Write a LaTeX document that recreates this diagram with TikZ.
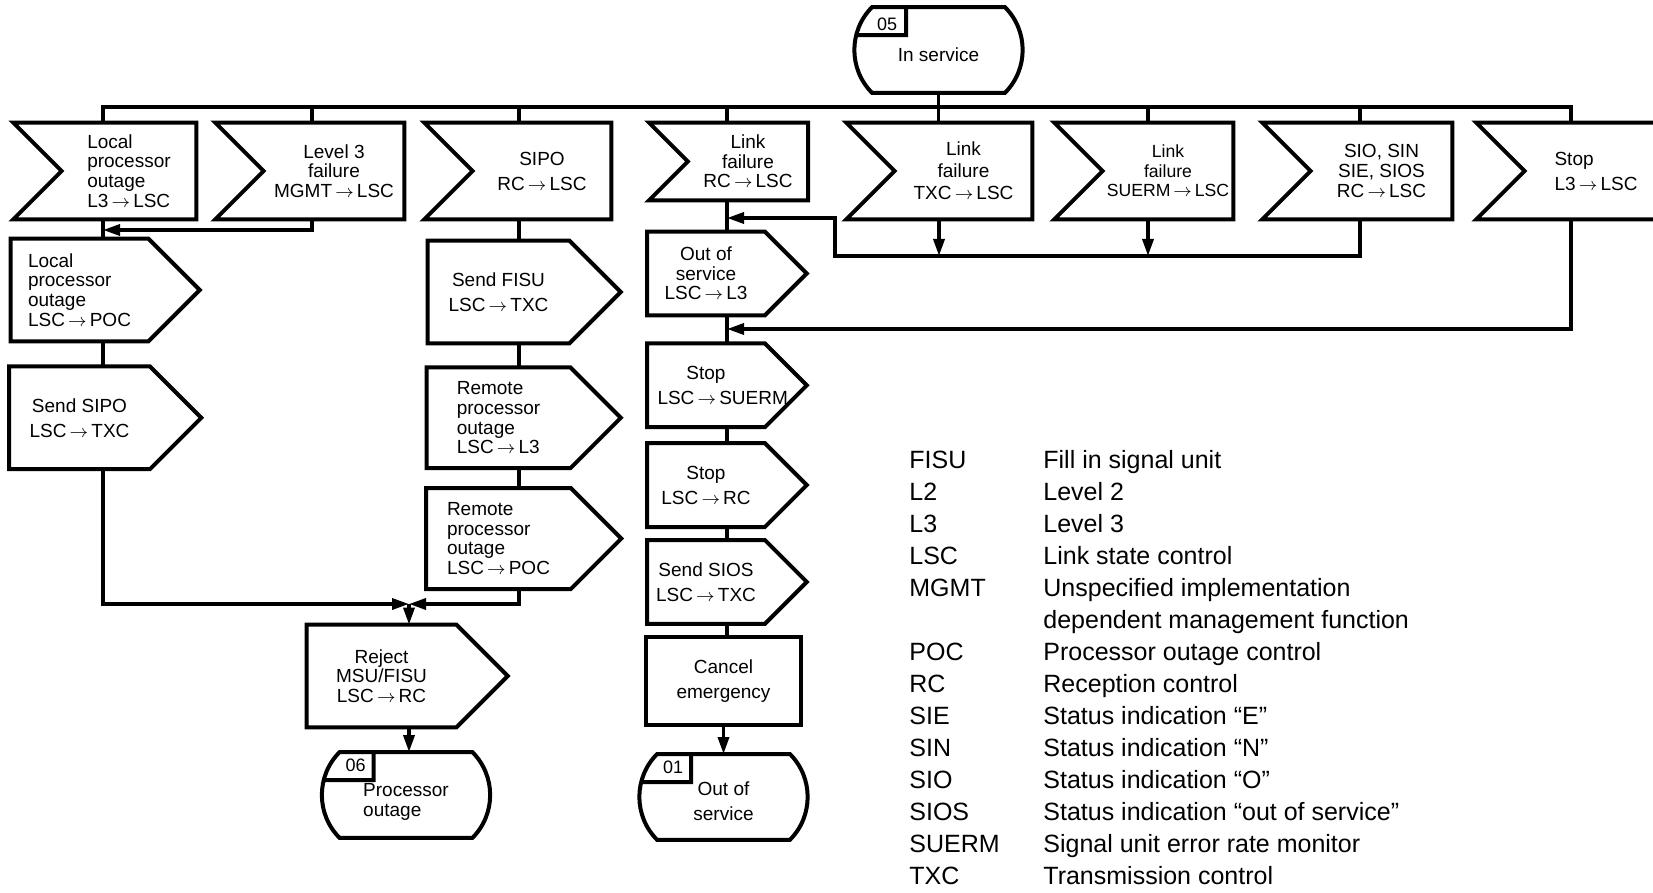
\documentclass[tikz,border=0pt]{standalone}
\usepackage{fontspec}
\setmainfont{Liberation Sans}
\usetikzlibrary{arrows.meta,positioning,calc}

\newcommand{\sigarrow}{\,$\rightarrow$\,}

\begin{document}
\begin{tikzpicture}[
      x=0.5pt, y=-0.5pt,
      >={Triangle[length=8.5pt,width=5.5pt]},
      outline/.style={draw, line width=2pt, line join=miter},
      conn/.style={line width=1.7pt},
      boxfont/.style={font=\fontsize{9.5}{9.8}\selectfont},
      twoline/.style={font=\fontsize{9.5}{12.5}\selectfont},
      recv/.style={boxfont, inner sep=0pt, minimum width=#1, minimum height=48pt, align=center,
        append after command={\pgfextra{\draw[outline]
          let \p1=($(\tikzlastnode.north)-(\tikzlastnode.south)$) in
          (\tikzlastnode.west) -- ([xshift=-0.5*\y1]\tikzlastnode.north west)
          -- (\tikzlastnode.north east) -- (\tikzlastnode.south east)
          -- ([xshift=-0.5*\y1]\tikzlastnode.south west) -- cycle;}}},
      send/.style={boxfont, inner sep=0pt, minimum width=#1, minimum height=51pt, align=center,
        append after command={\pgfextra{\draw[outline]
          let \p1=($(\tikzlastnode.north)-(\tikzlastnode.south)$) in
          (\tikzlastnode.north west) -- (\tikzlastnode.north east)
          -- ([xshift=0.5*\y1]\tikzlastnode.east) -- (\tikzlastnode.south east)
          -- (\tikzlastnode.south west) -- cycle;}}},
      % #1 pushes the text below the tag
      terminal/.style={boxfont, inner sep=0pt, minimum width=66pt, minimum height=42.5pt, align=center,
        execute at begin node={\rule{0pt}{#1}},
        append after command={\pgfextra{\draw[outline]
          (\tikzlastnode.north west) to[bend right=45] (\tikzlastnode.south west)
          -- (\tikzlastnode.south east) to[bend right=45] (\tikzlastnode.north east) -- cycle
          ([xshift=17pt]\tikzlastnode.north west) |- ([xshift=-8pt,yshift=-14pt]\tikzlastnode.north west);}}},
      tagnum/.style={font=\fontsize{9}{9}\selectfont, inner sep=0pt},
      legend/.style={font=\fontsize{12.5}{16}\selectfont, inner sep=0pt, anchor=north west}
    ]
    \useasboundingbox (0,0) rectangle (1653,893);

    % column lines and junctions
    \coordinate (bus) at (0,107);
    \coordinate (c1) at (103,0);
    \coordinate (c2) at (312,0);
    \coordinate (c3) at (519,0);
    \coordinate (c4) at (727,0);
    \coordinate (c5) at (939,0);
    \coordinate (c6) at (1148,0);
    \coordinate (c7) at (1360,0);
    \coordinate (c8) at (1571,0);
    \coordinate (j1) at (103,230);
    \coordinate (merge) at (409,604);
    \coordinate (coll) at (835,256);
    \coordinate (j2) at (727,218);
    \coordinate (j3) at (727,329);

    \node[terminal=12pt] (in05) at (938.5,50) {In service};
    \node[tagnum] (n05) at ([xshift=7.5pt,yshift=-8.5pt]in05.north west) {05};

    % received signals
    \node[recv=67pt, align=left] (lpo) at (129,171) {Local\\processor\\outage\\L3\sigarrow LSC};
    \node[recv=70pt] (l3f) at (334,171) {Level 3\\failure\\MGMT\sigarrow LSC};
    \node[recv=69pt, twoline] (sipo) at (542,171) {SIPO\\RC\sigarrow LSC};
    \node[recv=59.75pt, minimum height=38.5pt] (lfrc) at (748,161.5) {Link\\failure\\RC\sigarrow LSC};
    \node[recv=68.5pt, font=\fontsize{9.5}{11}\selectfont] (lftxc) at (963.5,171) {Link\\failure\\TXC\sigarrow LSC};
    \node[recv=65pt, font=\fontsize{8.8}{9.8}\selectfont] (lfsuerm) at (1168,171) {Link\\failure\\SUERM\sigarrow LSC};
    \node[recv=70.5pt] (sio) at (1381.5,171) {SIO, SIN\\SIE, SIOS\\RC\sigarrow LSC};
    \node[recv=71pt, twoline, align=left] (stopl3) at (1596,171) {Stop\\L3\sigarrow LSC};

    % local processor outage branch
    \node[send=68.5pt, align=left] (lposend) at (79.5,290) {Local\\processor\\outage\\LSC\sigarrow POC};
    \node[send=70pt, twoline, below=12.5pt of lposend] (sendsipo) {Send SIPO\\LSC\sigarrow TXC};

    % SIPO branch
    \node[send=70.5pt, twoline] (sendfisu) at (498.5,292) {Send FISU\\LSC\sigarrow TXC};
    \node[send=71.5pt, minimum height=50pt, align=left, below=12pt of sendfisu] (rpol3) {Remote\\processor\\outage\\LSC\sigarrow L3};
    \node[send=72pt, minimum height=50pt, align=left, below=10pt of rpol3] (rpopoc) {Remote\\processor\\outage\\LSC\sigarrow POC};
    \node[send=74.5pt] (reject) at (381.5,676) {Reject\\MSU/FISU\\LSC\sigarrow RC};
    \node[terminal=23pt, align=left] (t06) at (406,795) {Processor\\outage};
    \node[tagnum] (n06) at ([xshift=8pt,yshift=-6.5pt]t06.north west) {06};

    % link failure branch
    \node[send=58.5pt, minimum height=41.5pt] (oos) at (706,273.5) {Out of\\service\\LSC\sigarrow L3};
    \node[send=58.5pt, text width=58.5pt, minimum height=41.5pt, twoline, below=14pt of oos] (stopsuerm) {Stop\\\hspace*{5pt}LSC\sigarrow SUERM};
    \node[send=58.5pt, minimum height=41.5pt, twoline, below=8pt of stopsuerm] (stoprc) {Stop\\LSC\sigarrow RC};
    \node[send=58.5pt, minimum height=41.5pt, twoline, below=6.5pt of stoprc] (sendsios) {Send SIOS\\LSC\sigarrow TXC};
    \node[outline, twoline, inner sep=0pt, minimum width=77.5pt, minimum height=44pt, align=center] (cancel) at (723.5,681) {Cancel\\emergency};
    \node[terminal=24pt, twoline, below=13.5pt of cancel] (t01) {Out of\\service};
    \node[tagnum] (n01) at ([xshift=8pt,yshift=-6.5pt]t01.north west) {01};

    % abbreviations
    \node[legend] (legend) at (909,446) {%
      \begin{tabular}{@{}p{67pt}@{}l@{}}
        FISU & Fill in signal unit\\
        L2 & Level 2\\
        L3 & Level 3\\
        LSC & Link state control\\
        MGMT & Unspecified implementation\\
         & dependent management function\\
        POC & Processor outage control\\
        RC & Reception control\\
        SIE & Status indication “E”\\
        SIN & Status indication “N”\\
        SIO & Status indication “O”\\
        SIOS & Status indication “out of service”\\
        SUERM & Signal unit error rate monitor\\
        TXC & Transmission control
      \end{tabular}};

    % bus from the in service state
    \draw[conn] (in05.south) -- (in05.south |- lftxc.north);
    \draw[conn] (lpo.north -| c1) |- (bus -| c8) -- (stopl3.north -| c8);
    \draw[conn] (l3f.north -| c2) -- (bus -| c2);
    \draw[conn] (sipo.north -| c3) -- (bus -| c3);
    \draw[conn] (lfrc.north -| c4) -- (bus -| c4);
    \draw[conn] (lfsuerm.north -| c6) -- (bus -| c6);
    \draw[conn] (sio.north -| c7) -- (bus -| c7);

    \draw[conn] (lpo.south -| c1) -- (lposend.north -| c1);
    \draw[conn,->] (l3f.south -| c2) |- (j1);
    \draw[conn] (lposend.south -| c1) -- (sendsipo.north -| c1);
    \draw[conn,->] (sendsipo.south -| c1) |- (merge);

    \draw[conn] (sipo.south -| c3) -- (sendfisu.north -| c3);
    \draw[conn] (sendfisu.south -| c3) -- (rpol3.north -| c3);
    \draw[conn] (rpol3.south -| c3) -- (rpopoc.north -| c3);
    \draw[conn,->] (rpopoc.south -| c3) |- (merge);
    \draw[conn,->] (merge) -- (reject.north -| merge);
    \draw[conn,->] (reject.south -| merge) -- (t06.north -| merge);

    \draw[conn] (lfrc.south -| c4) -- (oos.north -| c4);
    \draw[conn] (oos.south -| c4) -- (stopsuerm.north -| c4);
    \draw[conn] (stopsuerm.south -| c4) -- (stoprc.north -| c4);
    \draw[conn] (stoprc.south -| c4) -- (sendsios.north -| c4);
    \draw[conn] (sendsios.south -| c4) -- (cancel.north -| c4);
    \draw[conn,->] (cancel.south) -- (cancel.south |- t01.north);

    \draw[conn,->] (lftxc.south -| c5) -- (coll -| c5);
    \draw[conn,->] (lfsuerm.south -| c6) -- (coll -| c6);
    \draw[conn,->] (sio.south -| c7) |- (coll) |- (j2);
    \draw[conn,->] (stopl3.south -| c8) |- (j3);
  \end{tikzpicture}
\end{document}
